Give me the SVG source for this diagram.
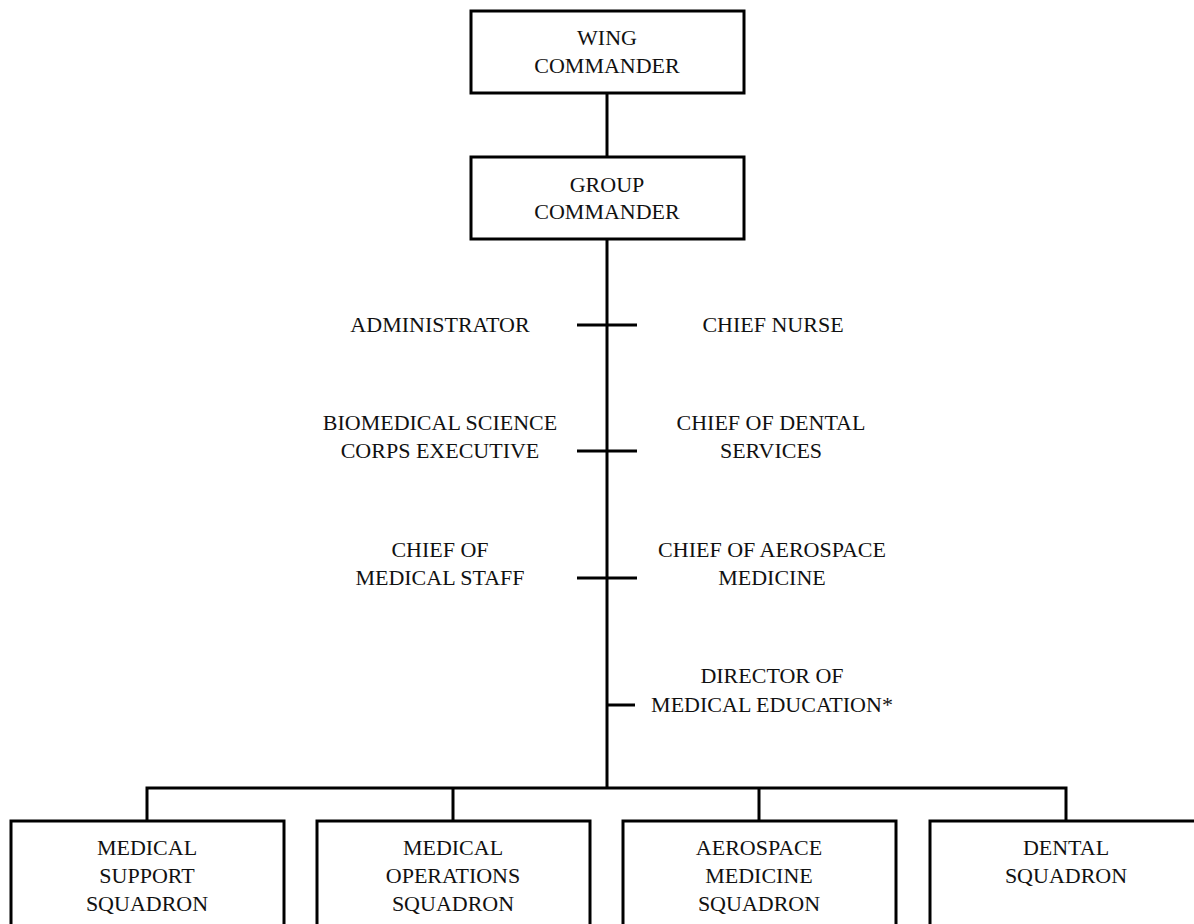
<svg xmlns="http://www.w3.org/2000/svg" width="1194" height="924" viewBox="0 0 1194 924">
<style>
.box{fill:#fff;stroke:#000;stroke-width:3}
.ln{stroke:#000;stroke-width:3;fill:none}
text{font-family:"Liberation Serif","Times New Roman",serif;font-size:22px;fill:#111;text-anchor:middle}
</style>
<rect width="1194" height="924" fill="#fff"/>
<g id="connectors">
<line class="ln" x1="607" y1="93" x2="607" y2="157"/>
<line class="ln" x1="607" y1="239" x2="607" y2="788"/>
<line class="ln" x1="577" y1="325" x2="637" y2="325"/>
<line class="ln" x1="577" y1="451" x2="637" y2="451"/>
<line class="ln" x1="577" y1="578" x2="637" y2="578"/>
<line class="ln" x1="607" y1="705" x2="635" y2="705"/>
<polyline class="ln" points="147,821 147,788 1066,788 1066,821"/>
<line class="ln" x1="453" y1="788" x2="453" y2="821"/>
<line class="ln" x1="759" y1="788" x2="759" y2="821"/>
</g>
<g id="wing">
<rect class="box" x="471" y="11" width="273" height="82"/>
<text x="607" y="45">WING</text>
<text x="607" y="73">COMMANDER</text>
</g>
<g id="group">
<rect class="box" x="471" y="157" width="273" height="82"/>
<text x="607" y="192">GROUP</text>
<text x="607" y="219">COMMANDER</text>
</g>
<g id="administrator"><text x="440" y="332">ADMINISTRATOR</text></g>
<g id="chief-nurse"><text x="773" y="332">CHIEF NURSE</text></g>
<g id="bsc-exec"><text x="440" y="430">BIOMEDICAL SCIENCE</text><text x="440" y="458">CORPS EXECUTIVE</text></g>
<g id="chief-dental"><text x="771" y="430">CHIEF OF DENTAL</text><text x="771" y="458">SERVICES</text></g>
<g id="chief-med-staff"><text x="440" y="557">CHIEF OF</text><text x="440" y="585">MEDICAL STAFF</text></g>
<g id="chief-aero"><text x="772" y="557">CHIEF OF AEROSPACE</text><text x="772" y="585">MEDICINE</text></g>
<g id="dir-med-ed"><text x="772" y="683">DIRECTOR OF</text><text x="772" y="712">MEDICAL EDUCATION*</text></g>
<g id="mdss">
<rect class="box" x="11" y="821" width="273" height="120"/>
<text x="147" y="855">MEDICAL</text><text x="147" y="883">SUPPORT</text><text x="147" y="911">SQUADRON</text>
</g>
<g id="mdos">
<rect class="box" x="317" y="821" width="273" height="120"/>
<text x="453" y="855">MEDICAL</text><text x="453" y="883">OPERATIONS</text><text x="453" y="911">SQUADRON</text>
</g>
<g id="amds">
<rect class="box" x="623" y="821" width="273" height="120"/>
<text x="759" y="855">AEROSPACE</text><text x="759" y="883">MEDICINE</text><text x="759" y="911">SQUADRON</text>
</g>
<g id="dental">
<rect class="box" x="930" y="821" width="273" height="120"/>
<text x="1066" y="855">DENTAL</text><text x="1066" y="883">SQUADRON</text>
</g>
</svg>
